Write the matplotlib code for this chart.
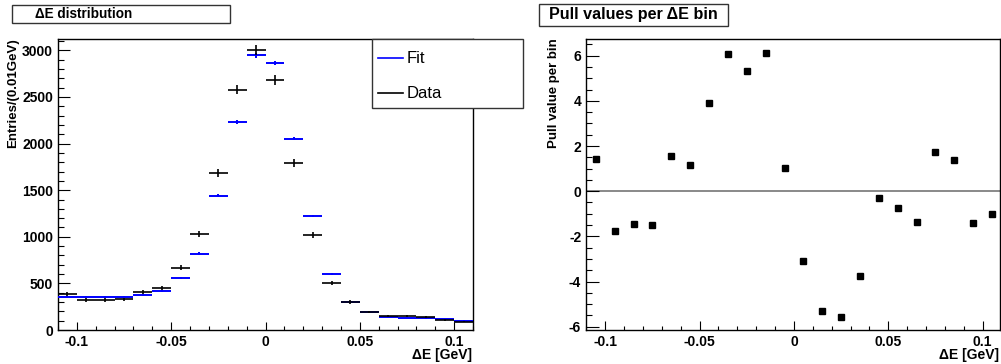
import matplotlib
matplotlib.use("Agg")
import matplotlib.pyplot as plt
from matplotlib.patches import Rectangle
from matplotlib.lines import Line2D
from matplotlib.ticker import MultipleLocator, FuncFormatter

plt.rcParams['font.family'] = ['Liberation Sans', 'DejaVu Sans']

# ---- data ----
bin_centers = [-0.105, -0.095, -0.085, -0.075, -0.065, -0.055, -0.045, -0.035,
               -0.025, -0.015, -0.005, 0.005, 0.015, 0.025, 0.035, 0.045,
               0.055, 0.065, 0.075, 0.085, 0.095, 0.105]
bin_half_width = 0.005
data_counts = [387, 322, 322, 330, 405, 448, 666, 1032, 1683, 2580, 3007, 2680,
               1794, 1017, 501, 301, 195, 150, 150, 136, 104, 90]
data_err = [20, 18, 18, 18, 20, 21, 26, 32, 41, 51, 55, 52,
            42, 32, 22, 17, 14, 12, 12, 12, 10, 9]
fit_counts = [358, 358, 355, 358, 376, 419, 555, 820, 1439, 2234, 2945, 2862,
              2051, 1221, 598, 301, 195, 140, 129, 126, 115, 100]
fit_err = [8, 8, 8, 8, 8, 9, 10, 13, 16, 20, 22, 21,
           17, 13, 9, 7, 6, 5, 5, 5, 4, 4]
pull_values = [1.42, -1.77, -1.46, -1.48, 1.58, 1.18, 3.92, 6.09, 5.32, 6.12,
               1.04, -3.09, -5.32, -5.57, -3.77, -0.28, -0.74, -1.37, 1.73,
               1.40, -1.42, -1.02]

left_title = "\u0394E distribution"
right_title = "Pull values per \u0394E bin"
left_ylabel = "Entries/(0.01GeV)"
right_ylabel = "Pull value per bin"
xlabel = "\u0394E [GeV]"
legend_labels = ["Fit", "Data"]

W, H = 1001, 364
fig = plt.figure(figsize=(W / 100, H / 100), dpi=100)


def fbox(x0, y0, x1, y1):
    # pixel box (top-left origin) -> figure fraction rect
    return [x0 / W, 1 - y1 / H, (x1 - x0) / W, (y1 - y0) / H]


ax1 = fig.add_axes(fbox(58, 39, 473, 330))
ax2 = fig.add_axes(fbox(586, 39, 1000, 330))


def fmt_num(v, pos):
    if abs(v) < 1e-9:
        return "0"
    return "%g" % v


for ax in (ax1, ax2):
    for sp in ax.spines.values():
        sp.set_linewidth(1.0)
        sp.set_color('black')
    ax.xaxis.set_major_locator(MultipleLocator(0.05))
    ax.xaxis.set_minor_locator(MultipleLocator(0.01))
    ax.xaxis.set_major_formatter(FuncFormatter(fmt_num))
    ax.tick_params(axis='both', which='both', direction='in', top=False, right=False,
                   width=0.8, color='black')
    ax.tick_params(axis='x', which='major', length=6.0, pad=3.5)
    ax.tick_params(axis='x', which='minor', length=3.0)
    ax.tick_params(axis='y', which='major', length=8.8, pad=3.5)
    ax.tick_params(axis='y', which='minor', length=4.4)
    ax.tick_params(labelsize=10)

# ---- left panel ----
ax1.errorbar(bin_centers, fit_counts, xerr=bin_half_width, yerr=fit_err, fmt='none',
             ecolor='#0000ff', elinewidth=1.4, capsize=0, zorder=3)
ax1.errorbar(bin_centers, data_counts, xerr=bin_half_width, yerr=data_err, fmt='none',
             ecolor='black', elinewidth=1.2, capsize=0, zorder=4)
ax1.set_xlim(-0.11, 0.11)
ax1.set_ylim(0, 3122)
ax1.yaxis.set_major_locator(MultipleLocator(500))
ax1.yaxis.set_minor_locator(MultipleLocator(100))
ax1.yaxis.set_major_formatter(FuncFormatter(lambda v, p: "%d" % round(v)))

# ---- right panel ----
ax2.axhline(0, color='#808080', lw=1.3, zorder=1)
ax2.plot(bin_centers, pull_values, ls='none', marker='s', ms=4.0, color='black', zorder=3)
ax2.set_xlim(-0.1102, 0.1092)
ax2.set_ylim(-6.146, 6.74)
ax2.yaxis.set_major_locator(MultipleLocator(2))
ax2.yaxis.set_minor_locator(MultipleLocator(0.5))
ax2.yaxis.set_major_formatter(FuncFormatter(lambda v, p: "%d" % round(v)))
ax2.tick_params(axis='y', which='major', length=9.4)
ax2.tick_params(axis='x', which='major', length=6.5)

for ax in (ax1, ax2):
    for lab in ax.get_xticklabels() + ax.get_yticklabels():
        lab.set_fontweight('bold')

# ---- axis labels ----
fig.text(471.5 / W, 1 - 355 / H, xlabel, ha='right', va='center', fontsize=10,
         fontweight='bold')
fig.text(999 / W, 1 - 355 / H, xlabel, ha='right', va='center', fontsize=10,
         fontweight='bold')
fig.text(13.5 / W, 1 - 38 / H, left_ylabel, ha='center', va='top', rotation=90,
         fontsize=9.5, fontweight='bold')
fig.text(553.5 / W, 1 - 38 / H, right_ylabel, ha='center', va='top', rotation=90,
         fontsize=9.5, fontweight='bold')

# ---- title boxes ----
fig.patches.append(Rectangle((11.7 / W, 1 - 23.3 / H), (230 - 11.7) / W, (23.3 - 4.7) / H,
                             transform=fig.transFigure, facecolor='white',
                             edgecolor='#333333', lw=1.0))
fig.text(35 / W, 1 - 14.3 / H, left_title, ha='left', va='center', fontsize=9.8,
         fontweight='bold')
fig.patches.append(Rectangle((539.3 / W, 1 - 25.7 / H), (728 - 539.3) / W, (25.7 - 4.3) / H,
                             transform=fig.transFigure, facecolor='white',
                             edgecolor='#333333', lw=1.0))
fig.text(549 / W, 1 - 15 / H, right_title, ha='left', va='center', fontsize=11.6,
         fontweight='bold')

# ---- legend box ----
fig.patches.append(Rectangle((372 / W, 1 - 107.5 / H), (523 - 372) / W, (107.5 - 39.3) / H,
                             transform=fig.transFigure, facecolor='white',
                             edgecolor='#333333', lw=1.0, zorder=10))
for (lbl, col, yy) in zip(legend_labels, ['#0000ff', 'black'], [58.3, 93.3]):
    fig.lines.append(Line2D([377.5 / W, 403 / W], [1 - yy / H, 1 - yy / H],
                            transform=fig.transFigure, color=col, lw=1.2, zorder=11))
    fig.text(407 / W, 1 - yy / H, lbl, ha='left', va='center', fontsize=12, zorder=12)

fig.savefig("out.png", dpi=100)
